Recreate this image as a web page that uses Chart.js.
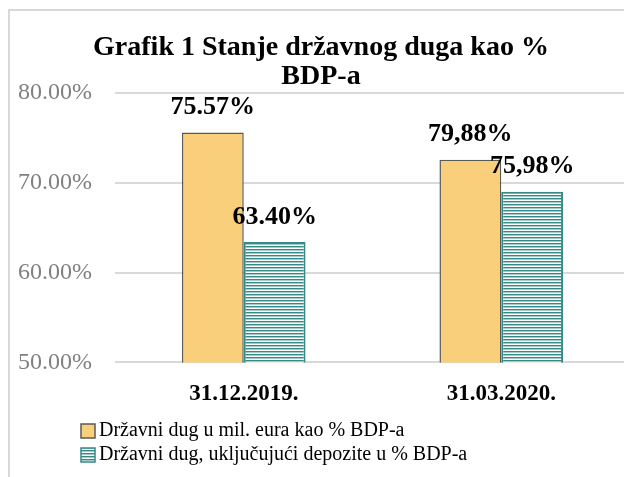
<!DOCTYPE html>
<html lang="hr">
<head>
<meta charset="UTF-8">
<meta name="viewport" content="width=device-width, initial-scale=1.0">
<title>Grafik 1 Stanje državnog duga kao % BDP-a</title>
<script src="https://cdn.jsdelivr.net/npm/chart.js"></script>
<style>
  html, body { margin: 0; padding: 0; overflow: hidden; background: #fff; }
  #wrap { position: relative; width: 640px; height: 477px; }
</style>
</head>
<body>
<div id="wrap"><canvas id="chart"></canvas></div>
<script>
const categories = ['31.12.2019.', '31.03.2020.'];
const seriesNames = [
    'Državni dug u mil. eura kao % BDP-a',
    'Državni dug, uključujući depozite u % BDP-a'
];
// bar heights as drawn in the picture
const dugValues = [75.57, 72.55];
const depozitiValues = [63.40, 69.0];
// the printed labels (they differ from the bar heights in the original)
const dugLabels = ['75.57%', '79,88%'];
const depozitiLabels = ['63.40%', '75,98%'];
const yMin = 50, yMax = 80, yStep = 10;

const ORANGE = '#f9cf7b';
const ORANGE_EDGE = '#5a5a55';
const TEAL = '#358a88';

const canvas = document.getElementById('chart');
const ctx0 = canvas.getContext('2d');

function stripes() {
    const c = document.createElement('canvas');
    c.width = 4; c.height = 3;
    const g = c.getContext('2d');
    g.fillStyle = '#fff';
    g.fillRect(0, 0, 4, 3);
    g.fillStyle = TEAL;
    g.fillRect(0, 0, 4, 1);
    g.fillStyle = 'rgba(53,138,136,0.45)';
    g.fillRect(0, 1, 4, 1);
    return ctx0.createPattern(c, 'repeat');
}
const tealPattern = stripes();

const frame = {
    id: 'frame',
    beforeDraw(chart) {
        const ctx = chart.ctx;
        ctx.save();
        ctx.strokeStyle = '#d9d9d9';
        ctx.lineWidth = 2;
        ctx.beginPath();
        ctx.moveTo(9, chart.height);
        ctx.lineTo(9, 10);
        ctx.lineTo(chart.width, 10);
        ctx.stroke();
        ctx.restore();
    }
};

const valueLabels = {
    id: 'valueLabels',
    afterDatasetsDraw(chart) {
        const ctx = chart.ctx;
        ctx.save();
        ctx.font = 'bold 26px "Liberation Serif"';
        ctx.fillStyle = '#000';
        ctx.textAlign = 'center';
        ctx.textBaseline = 'middle';
        [dugLabels, depozitiLabels].forEach((texts, di) => {
            chart.getDatasetMeta(di).data.forEach((bar, i) => {
                ctx.fillText(texts[i], bar.x, bar.y - 25);
            });
        });
        ctx.restore();
    }
};

const bottomLegend = {
    id: 'bottomLegend',
    afterDraw(chart) {
        const ctx = chart.ctx;
        const rows = [431, 455];
        ctx.save();
        ctx.font = '20px "Liberation Serif"';
        ctx.textBaseline = 'middle';
        ctx.textAlign = 'left';
        seriesNames.forEach((name, i) => {
            const y = rows[i];
            ctx.fillStyle = i === 0 ? ORANGE : tealPattern;
            ctx.fillRect(81, y - 7, 14, 14);
            ctx.lineWidth = 1.5;
            ctx.strokeStyle = i === 0 ? ORANGE_EDGE : TEAL;
            ctx.strokeRect(81, y - 7, 14, 14);
            ctx.fillStyle = '#000';
            ctx.fillText(name, 99, y);
        });
        ctx.restore();
    }
};

new Chart(canvas, {
    type: 'bar',
    data: {
        labels: categories,
        datasets: [{
            label: seriesNames[0],
            data: dugValues,
            backgroundColor: ORANGE,
            borderColor: ORANGE_EDGE,
            borderWidth: 1.5,
            borderSkipped: false
        }, {
            label: seriesNames[1],
            data: depozitiValues,
            backgroundColor: tealPattern,
            borderColor: TEAL,
            borderWidth: 2,
            borderSkipped: false
        }]
    },
    options: {
        responsive: true,
        maintainAspectRatio: false,
        animation: false,
        layout: { padding: { left: 12, right: 10, bottom: 59 } },
        datasets: { bar: { categoryPercentage: 0.48, barPercentage: 1 } },
        plugins: {
            legend: { display: false },
            tooltip: { enabled: false },
            title: {
                display: true,
                text: ['Grafik 1 Stanje državnog duga kao %', 'BDP-a'],
                color: '#000',
                font: { family: '"Liberation Serif"', size: 28, weight: 'bold', lineHeight: 1.05 },
                padding: { top: 33, bottom: 1 }
            }
        },
        scales: {
            x: {
                grid: { display: false },
                border: { display: false },
                ticks: {
                    color: '#000',
                    padding: 10,
                    font: { family: '"Liberation Serif"', size: 23, weight: 'bold' }
                }
            },
            y: {
                min: yMin,
                max: yMax,
                border: { display: false },
                grid: { color: '#d9d9d9', lineWidth: 2, drawTicks: false },
                afterFit: s => { s.width = 103; },
                ticks: {
                    stepSize: yStep,
                    color: '#808080',
                    padding: 23,
                    font: { family: '"Liberation Serif"', size: 24 },
                    callback: v => v.toFixed(2) + '%'
                }
            }
        }
    },
    plugins: [frame, valueLabels, bottomLegend]
});
</script>
</body>
</html>
